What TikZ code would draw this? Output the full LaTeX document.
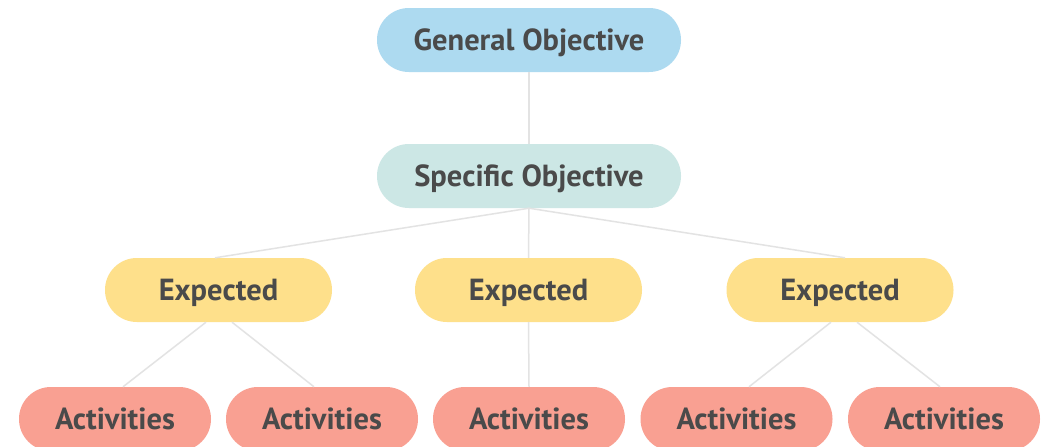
\documentclass[tikz,border=0pt]{standalone}
\usepackage{fontspec}
\setmainfont{PT Sans}
\definecolor{txt}{HTML}{4A4A4A}
\definecolor{lnk}{HTML}{E3E3E3}
\definecolor{cgen}{HTML}{ADDAF0}
\definecolor{cspec}{HTML}{CCE7E5}
\definecolor{cexp}{HTML}{FEE08B}
\definecolor{cact}{HTML}{F9A092}
\tikzset{
  pill/.style={rectangle, rounded corners=31.9pt, minimum height=64pt, inner sep=0pt,
    text=txt, font=\fontsize{30.5}{32}\selectfont\bfseries, text height=21pt, text depth=0pt},
  genbox/.style={pill, fill=cgen, minimum width=304pt},
  specbox/.style={pill, fill=cspec, minimum width=304pt},
  expbox/.style={pill, fill=cexp, minimum width=227pt},
  actbox/.style={pill, fill=cact, minimum width=192pt},
  link/.style={draw=lnk, line width=1.5pt}
}
\begin{document}
\begin{tikzpicture}[x=1pt,y=-1pt]
\useasboundingbox[fill=white] (0,0) rectangle (1044,447);
\node[genbox] (g) at (529,40) {General Objective};
\node[specbox] (s) at (529,176) {Specific Objective};
\node[expbox] (e1) at (218.5,290) {Expected};
\node[expbox] (e2) at (528.5,290) {Expected};
\node[expbox] (e3) at (840,290) {Expected};
\node[actbox] (a1) at (115,419) {Activities};
\node[actbox] (a2) at (322,419) {Activities};
\node[actbox] (a3) at (529,419) {Activities};
\node[actbox] (a4) at (736.5,419) {Activities};
\node[actbox] (a5) at (944,419) {Activities};
\draw[link] (g.south) -- (s.north);
\draw[link] (s.south) -- ([xshift=-3.5pt]e1.north);
\draw[link] (s.south) -- (e2.north);
\draw[link] (s.south) -- ([xshift=5pt]e3.north);
\draw[link] ([xshift=-12.5pt]e1.south) -- ([xshift=8pt]a1.north);
\draw[link] ([xshift=13.5pt]e1.south) -- ([xshift=-8pt]a2.north);
\draw[link] (e2.south) -- (a3.north);
\draw[link] ([xshift=-9pt]e3.south) -- ([xshift=12.5pt]a4.north);
\draw[link] ([xshift=17pt]e3.south) -- ([xshift=-4pt]a5.north);
\end{tikzpicture}
\end{document}
